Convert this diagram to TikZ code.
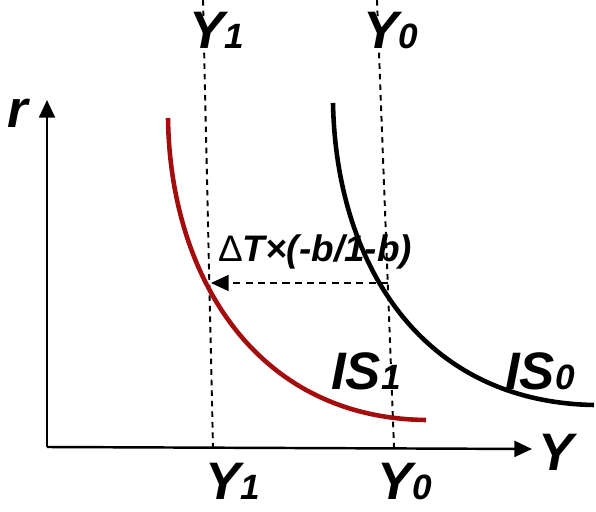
\documentclass[tikz,border=0pt]{standalone}
\usepackage{fontspec}
\setmainfont{Liberation Sans}
\usetikzlibrary{arrows.meta, positioning}
\definecolor{isred}{HTML}{A30D0D}
\tikzset{
	axisline/.style={
			line width=0.7pt,
			-{Triangle[length=5pt, width=4.5pt]}
		},
	guideline/.style={
			line width=0.55pt,
			dash pattern=on 1.6pt off 1.4pt
		},
	shiftarrow/.style={
			line width=0.6pt,
			dash pattern=on 2pt off 1.5pt,
			-{Triangle[length=5pt, width=4.5pt]}
		},
	iscurve/.style={
			line width=1.3pt
		}
}
\tikzset{
	biglabel/.style={font=\fontsize{15}{15}\selectfont\bfseries\itshape, inner sep=0pt, anchor=base},
	shiftlabel/.style={font=\fontsize{10.5}{10.5}\selectfont\bfseries\itshape, inner sep=0pt, anchor=base}
}
\newcommand{\subY}[1]{Y{\fontsize{10}{10}\selectfont #1}}

\begin{document}
\begin{tikzpicture}[x=0.01cm, y=-0.01cm]
			\useasboundingbox (0,0) rectangle (596,512);

			\coordinate (O) at (47,447);
			\coordinate (rtip) at (47,100);
			\coordinate (Ytip) at (532,449);

			\coordinate (y1top) at (203,0);
			\coordinate (y1bot) at (213,447);
			\coordinate (y0top) at (377,0);
			\coordinate (y0bot) at (394,447);

			\coordinate (onis0) at (388,283);
			\coordinate (onis1) at (211,283);

			% axes
			\draw[axisline] (O) -- (rtip);
			\draw[axisline] (O) -- (Ytip);

			% output levels
			\draw[guideline] (y1top) -- (y1bot);
			\draw[guideline] (y0top) -- (y0bot);

			% the two IS curves
			\draw[iscurve, isred] (168,118) .. controls (170,275) and (255,418) .. (426,420);
			\draw[iscurve, black] (333,103) .. controls (336,262) and (420,402) .. (594,405);

			% leftward shift
			\draw[shiftarrow] (onis0) -- (onis1);

			\node[biglabel] (rlab) at (18,128) {r};
			\node[biglabel] (Ylab) at (556,471) {Y};
			\node[biglabel] (y1toplab) at (217,48) {\subY{1}};
			\node[biglabel] (y0toplab) at (391,48) {\subY{0}};
			\node[biglabel] (y1botlab) at (233,500) {\subY{1}};
			\node[biglabel] (y0botlab) at (405,500) {\subY{0}};
			\node[biglabel] (is1lab) at (366,390) {IS{\fontsize{10}{10}\selectfont 1}};
			\node[biglabel] (is0lab) at (540,390) {IS{\fontsize{10}{10}\selectfont 0}};
			\node[shiftlabel] (shiftlab) at (315,262) {{\mdseries\upshape Δ}T×(-b/1-b)};

		\end{tikzpicture}
\end{document}
